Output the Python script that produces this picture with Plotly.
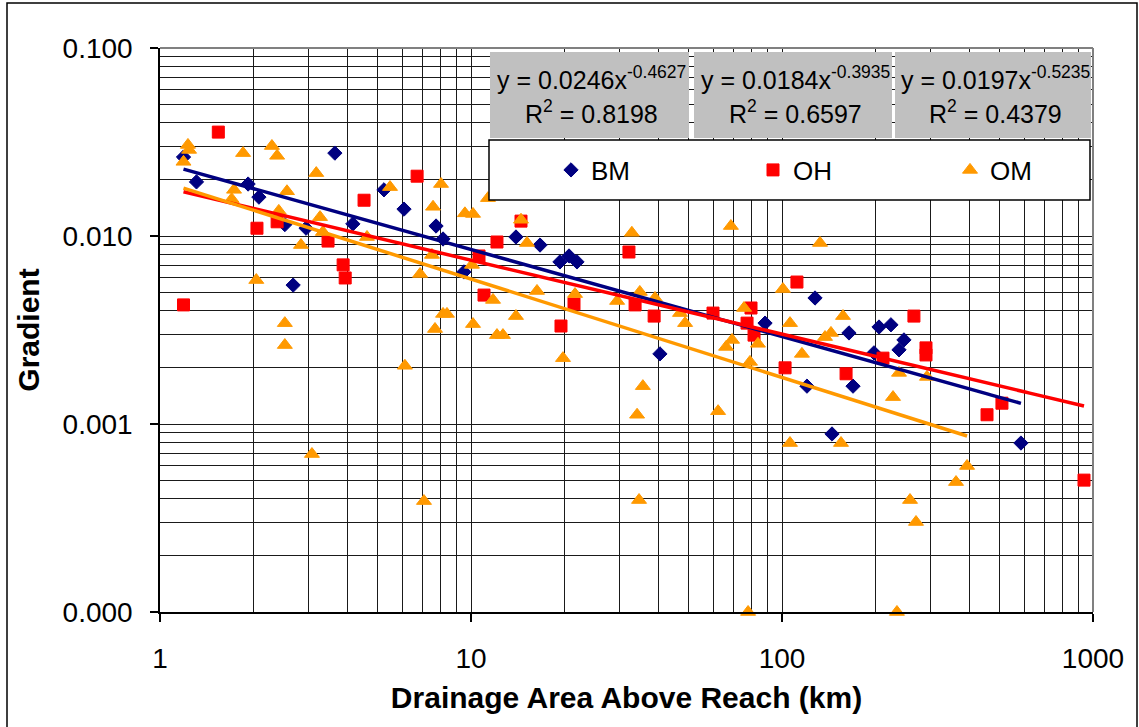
import numpy as np
import plotly.graph_objects as go

# ---------------- data ----------------
bm_area = [1.19, 1.31, 1.92, 2.08, 2.52, 2.68, 2.95, 3.65, 4.17, 5.25, 6.09, 7.72, 8.13, 9.49,
           13.95, 16.67, 19.32, 20.66, 21.92, 40.5, 88.2, 120.3, 127.7, 144.8, 164.2, 169.2,
           197.6, 205.1, 224.0, 237.8, 246.7, 586.6]
bm_grad = [0.0263, 0.0194, 0.0189, 0.0161, 0.0115, 0.00548, 0.0110, 0.0276, 0.0116, 0.0176,
           0.0139, 0.0113, 0.00964, 0.00644, 0.00988, 0.00895, 0.00728, 0.00783, 0.00728,
           0.00236, 0.00344, 0.00159, 0.00468, 0.000885, 0.00305, 0.00159, 0.00239, 0.00328,
           0.00337, 0.00248, 0.00280, 0.000792]

oh_area = [1.19, 1.54, 2.05, 2.38, 3.47, 3.88, 3.94, 4.53, 6.71, 10.61, 11.01, 12.12, 14.48,
           19.47, 21.44, 32.2, 33.7, 38.8, 60.0, 77.2, 79.5, 81.3, 102.3, 111.7, 160.7, 211.2,
           265.6, 290.4, 290.4, 456.3, 509.6, 935.6]
oh_grad = [0.00430, 0.0357, 0.0110, 0.0119, 0.0094, 0.00702, 0.00598, 0.0155, 0.0208, 0.00783,
           0.00485, 0.00929, 0.0120, 0.00332, 0.00435, 0.00822, 0.00430, 0.00375, 0.00389,
           0.00344, 0.00414, 0.00297, 0.00199, 0.00569, 0.00185, 0.00224, 0.00375, 0.00254,
           0.00233, 0.00112, 0.00129, 0.000503]

om_area = [1.23, 1.24, 1.19, 1.85, 2.29, 2.38, 3.18, 2.56, 1.73, 1.70, 2.41, 3.27, 3.34, 2.84,
           4.63, 5.49, 8.01, 7.55, 9.56, 10.15, 11.34, 7.49, 2.04, 2.52, 2.52, 6.13, 6.86, 8.13,
           8.37, 7.66, 10.15, 10.07, 11.77, 12.12, 12.67, 13.95, 16.3, 19.76, 21.6, 29.5, 34.9,
           39.05, 47.0, 48.8, 35.7, 34.2, 34.7, 62.3, 66.1, 69.1, 75.5, 78.9, 83.7, 100.7, 106.1,
           115.9, 137.5, 143.7, 157.1, 77.8, 234.2, 106.1, 154.8, 258.0, 269.7, 393.6, 362.7,
           237.8, 292.5, 227.5, 3.08, 7.06, 32.9, 68.5, 132.5, 14.48, 15.14]
om_grad = [0.0305, 0.0287, 0.0248, 0.0276, 0.0301, 0.0267, 0.0216, 0.0173, 0.0176, 0.0157,
           0.0136, 0.0126, 0.0105, 0.00895, 0.00988, 0.0182, 0.0189, 0.0143, 0.0132, 0.0131,
           0.0159, 0.00793, 0.00583, 0.00344, 0.00263, 0.00204, 0.00628, 0.00385, 0.00385,
           0.00320, 0.00340, 0.00702, 0.00457, 0.00297, 0.00297, 0.00375, 0.00510, 0.00224,
           0.00491, 0.00451, 0.00504, 0.00468, 0.00389, 0.00344, 0.00159, 0.00112, 0.000394,
           0.00117, 0.00257, 0.00280, 0.00414, 0.00214, 0.00267, 0.00522, 0.00344, 0.00236,
           0.00290, 0.00305, 0.00375, 0.0001, 0.0001, 0.000792, 0.000792, 0.000394, 0.000301,
           0.000598, 0.000491, 0.00187, 0.00178, 0.00139, 0.000692, 0.000389, 0.0104, 0.0113,
           0.00918, 0.0122, 0.00918]

# power-law trendlines  y = a * x^b  (a, b, R^2)
fits = {
    "BM": (0.0246, -0.4627, 0.8198),
    "OH": (0.0184, -0.3935, 0.6597),
    "OM": (0.0197, -0.5235, 0.4379),
}

x_ticks = [1, 10, 100, 1000]
x_tick_text = ["1", "10", "100", "1000"]
y_ticks = [0.0001, 0.001, 0.01, 0.1]
y_tick_text = ["0.000", "0.001", "0.010", "0.100"]

colors = {"BM": "#000080", "OH": "#FF0000", "OM": "#FF9900"}
series = [
    ("BM", bm_area, bm_grad, "diamond", 11, "legend"),
    ("OH", oh_area, oh_grad, "square", 12, "legend2"),
    ("OM", om_area, om_grad, "triangle-up", 13, "legend3"),
]

FONT = "Liberation Sans, Arial, sans-serif"
W, H = 1139, 727
L, R, T, B = 160, 1093, 48, 612


def px(p):
    return (p - L) / (R - L)


def py(p):
    return (B - p) / (B - T)


fig = go.Figure()

for name, xs, ys, sym, size, lg in series:
    fig.add_trace(go.Scatter(
        x=xs, y=ys, mode="markers", name=name, legend=lg,
        marker=dict(symbol=sym, size=size, color=colors[name],
                    line=dict(width=1, color=colors[name])),
        cliponaxis=False, showlegend=True,
    ))

for name, xs, ys, sym, size, lg in series:
    a, b, r2 = fits[name]
    xl = np.geomspace(min(xs), max(xs), 200)
    fig.add_trace(go.Scatter(
        x=xl, y=a * xl ** b, mode="lines", showlegend=False, hoverinfo="skip",
        line=dict(color=colors[name], width=3.5),
    ))

grid_col = "#1a1a1a"
minor_x = [m * 10 ** k for k in range(0, 3) for m in range(2, 10)]
minor_y = [m * 10 ** k for k in range(-4, -1) for m in range(2, 10)]

fig.update_xaxes(
    type="log", range=[0, 3], tickvals=x_ticks, ticktext=x_tick_text,
    showgrid=True, gridcolor=grid_col, gridwidth=1,
    minor=dict(tickvals=minor_x, showgrid=True, gridcolor=grid_col, gridwidth=1, ticks=""),
    showline=True, linecolor="black", linewidth=1.5, ticks="outside", ticklen=8,
    tickcolor="black", tickwidth=1.5, ticklabelstandoff=13,
    tickfont=dict(family=FONT, size=28, color="black"),
    title=dict(text="<b>Drainage Area Above Reach (km)</b>", standoff=14,
               font=dict(family=FONT, size=30, color="black")),
    zeroline=False,
)
fig.update_yaxes(
    type="log", range=[-4, -1], tickvals=y_ticks, ticktext=y_tick_text,
    showgrid=True, gridcolor=grid_col, gridwidth=1,
    minor=dict(tickvals=minor_y, showgrid=True, gridcolor=grid_col, gridwidth=1, ticks=""),
    showline=True, linecolor="black", linewidth=1.5, ticks="outside", ticklen=8,
    tickcolor="black", tickwidth=1.5, ticklabelstandoff=12,
    tickfont=dict(family=FONT, size=28, color="black"),
    title=dict(text="<b>Gradient</b>", standoff=14,
               font=dict(family=FONT, size=30, color="black")),
    zeroline=False,
)

shapes = [
    dict(type="line", xref="paper", yref="paper", x0=0, x1=1, y0=1, y1=1,
         line=dict(color="#808080", width=2), layer="above"),
    dict(type="line", xref="paper", yref="paper", x0=1, x1=1, y0=0, y1=1,
         line=dict(color="#808080", width=2), layer="above"),
    dict(type="rect", xref="paper", yref="paper", x0=px(7), x1=px(1137), y0=py(740), y1=py(3),
         line=dict(color="black", width=1.5), layer="above"),
]

eq_boxes = [(490, 689), (694, 892), (895, 1091)]
names = ["BM", "OH", "OM"]
annotations = []
for (x0, x1), name in zip(eq_boxes, names):
    shapes.append(dict(type="rect", xref="paper", yref="paper", x0=px(x0), x1=px(x1),
                       y0=py(138), y1=py(52), fillcolor="#C0C0C0", line=dict(width=0),
                       layer="above"))
    a, b, r2 = fits[name]
    cx = px((x0 + x1) / 2 + 2)
    annotations.append(dict(xref="paper", yref="paper", x=cx, y=py(78), xanchor="center",
                            yanchor="middle", showarrow=False,
                            text=f"y = {a:.4f}x<sup>{b:.4f}</sup>",
                            font=dict(family=FONT, size=25, color="black")))
    annotations.append(dict(xref="paper", yref="paper", x=cx, y=py(112), xanchor="center",
                            yanchor="middle", showarrow=False,
                            text=f"R<sup>2</sup> = {r2:.4f}",
                            font=dict(family=FONT, size=25, color="black")))

shapes.append(dict(type="rect", xref="paper", yref="paper", x0=px(489), x1=px(1090),
                   y0=py(200), y1=py(140), fillcolor="white",
                   line=dict(color="black", width=1.5), layer="above"))

leg_common = dict(orientation="h", y=py(170), xanchor="left", yanchor="middle",
                  bgcolor="rgba(0,0,0,0)", borderwidth=0,
                  font=dict(family=FONT, size=26, color="black"))

fig.update_layout(
    width=W, height=H,
    margin=dict(l=L, r=W - R, t=T, b=H - B),
    paper_bgcolor="white", plot_bgcolor="white",
    font=dict(family=FONT, color="black"),
    shapes=shapes, annotations=annotations,
    legend=dict(x=px(551), **leg_common),
    legend2=dict(x=px(753), **leg_common),
    legend3=dict(x=px(950), **leg_common),
)

fig.write_html("out.html")
